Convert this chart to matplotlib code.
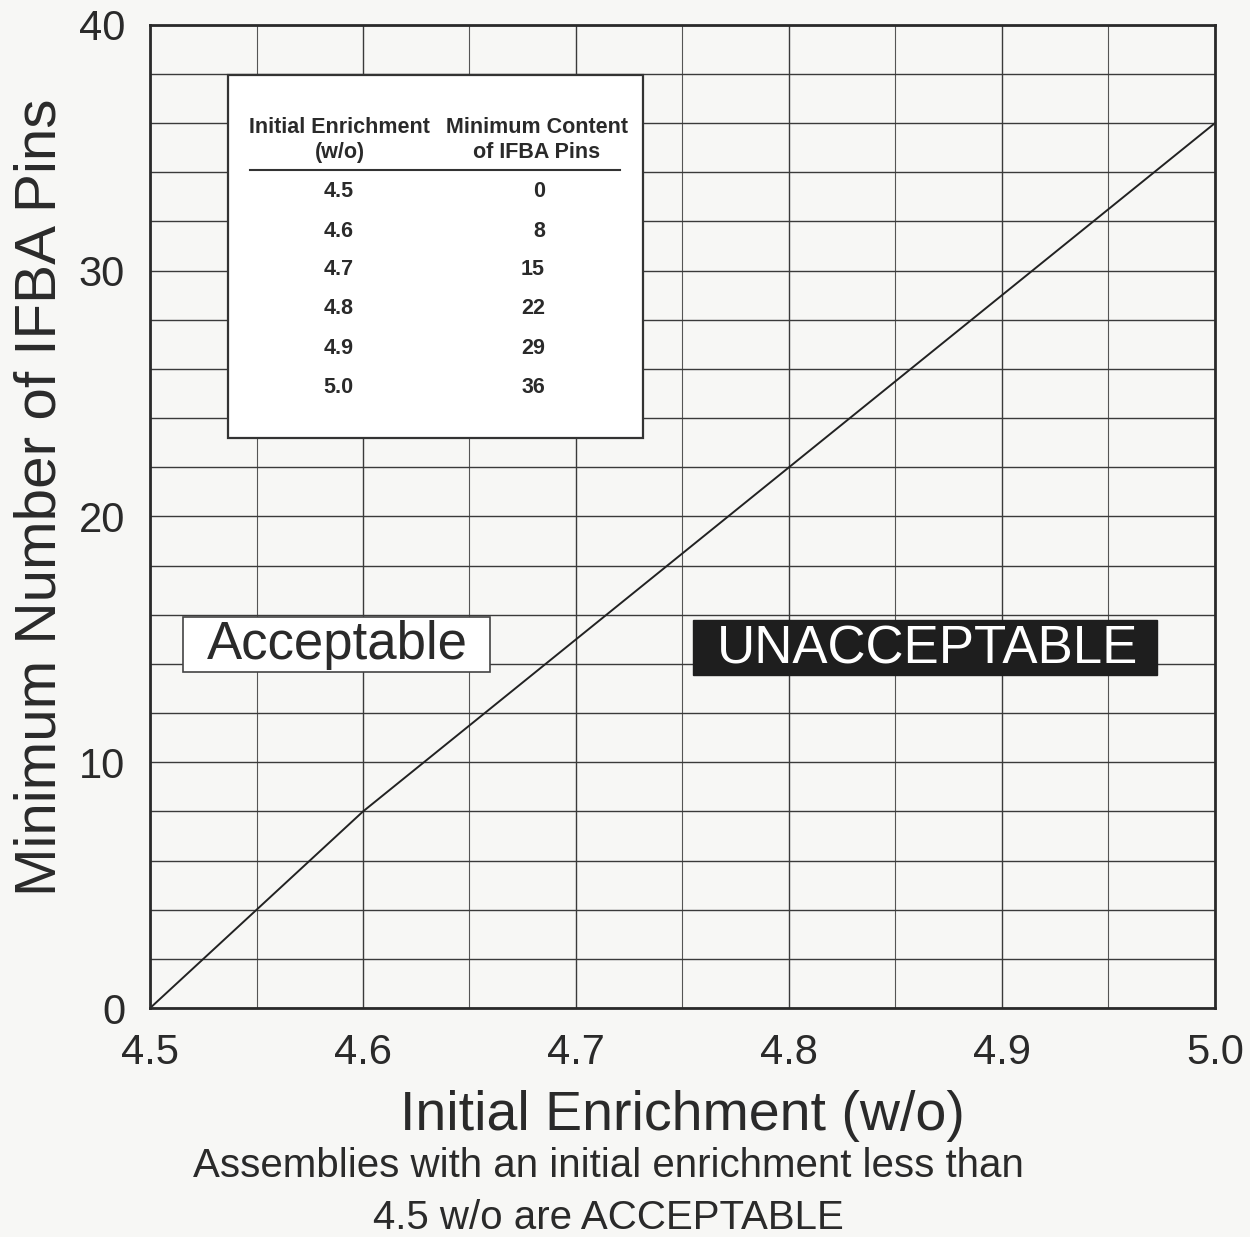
import matplotlib.pyplot as plt
from matplotlib.patches import Rectangle
import numpy as np

enrichment = [4.5, 4.6, 4.7, 4.8, 4.9, 5.0]
ifba_pins = [0, 8, 15, 22, 29, 36]
table_enrich = ['4.5', '4.6', '4.7', '4.8', '4.9', '5.0']
table_pins = ['0', '8', '15', '22', '29', '36']

plt.rcParams['font.family'] = ['Liberation Sans', 'DejaVu Sans']
ink = '#2a2a2a'
bg = '#f7f7f5'

fig = plt.figure(figsize=(12.5, 12.37), dpi=100, facecolor=bg)
ax = fig.add_axes([0.12, 0.185, 0.852, 0.795], facecolor=bg)

ax.plot(enrichment, ifba_pins, color='#222222', lw=1.4)

ax.set_xlim(4.5, 5.0)
ax.set_ylim(0, 40)
ax.set_xticks(np.arange(4.5, 5.01, 0.1))
ax.set_xticklabels(['4.5', '4.6', '4.7', '4.8', '4.9', '5.0'])
ax.set_yticks([0, 10, 20, 30, 40])
ax.set_xticks(np.arange(4.5, 5.01, 0.05), minor=True)
ax.set_yticks(np.arange(0, 41, 2), minor=True)
ax.grid(True, which='major', color='#3a3a3a', lw=1.0)
ax.grid(True, which='minor', axis='y', color='#3a3a3a', lw=1.0)
ax.grid(True, which='minor', axis='x', color='#555555', lw=0.8)
ax.tick_params(which='both', length=0, labelsize=30, colors=ink, pad=18)
for s in ax.spines.values():
    s.set_color('#2a2a2a')
    s.set_linewidth(2)

ax.set_xlabel('Initial Enrichment (w/o)', fontsize=40, color=ink, labelpad=12)
ax.set_ylabel('Minimum Number of IFBA Pins', fontsize=42, color=ink, labelpad=8)
ax.yaxis.label.set_y(0.52)

# region labels
ax.add_patch(Rectangle((4.5155, 13.67), 0.1441, 2.24, fc='white', ec='#444444', lw=1.2, zorder=5))
ax.text(4.588, 14.77, 'Acceptable', fontsize=38, color=ink, ha='center', va='center', zorder=6)
ax.add_patch(Rectangle((4.755, 13.55), 0.218, 2.24, fc='#1e1e1e', ec='#1e1e1e', zorder=5))
ax.text(4.865, 14.6, 'UNACCEPTABLE', fontsize=38, color='white', ha='center', va='center', zorder=6)

# inset table
ax.add_patch(Rectangle((0.073, 0.580), 0.39, 0.369, transform=ax.transAxes,
                       fc='white', ec='#333333', lw=1.6, zorder=6))
tk = dict(transform=ax.transAxes, fontsize=15.5, color=ink, zorder=7, fontweight='bold')
ax.text(0.178, 0.896, 'Initial Enrichment', ha='center', va='center', **tk)
ax.text(0.178, 0.870, '(w/o)', ha='center', va='center', **tk)
ax.text(0.363, 0.896, 'Minimum Content', ha='center', va='center', **tk)
ax.text(0.363, 0.870, 'of IFBA Pins', ha='center', va='center', **tk)
ax.plot([0.094, 0.441], [0.852, 0.852], transform=ax.transAxes, color='#333333', lw=1.5, zorder=7)
row_y = [0.830, 0.790, 0.751, 0.711, 0.671, 0.631]
for yy, e, p in zip(row_y, table_enrich, table_pins):
    ax.text(0.177, yy, e, ha='center', va='center', **tk)
    ax.text(0.371, yy, p, ha='right', va='center', **tk)

fig.text(0.487, 0.057, 'Assemblies with an initial enrichment less than', fontsize=29,
         color=ink, ha='center', va='center')
fig.text(0.487, 0.015, '4.5 w/o are ACCEPTABLE', fontsize=29, color=ink, ha='center', va='center')

fig.savefig('out.png', dpi=100, facecolor=bg)
